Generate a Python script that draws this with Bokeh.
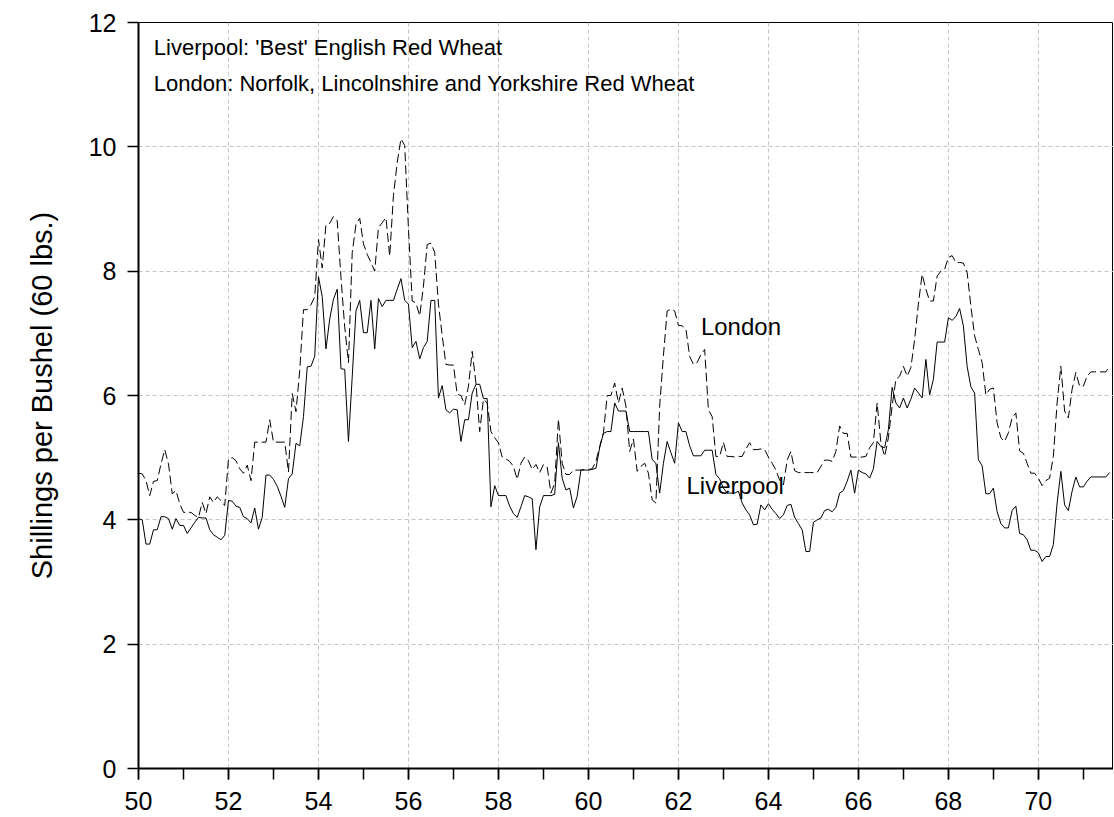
from bokeh.plotting import figure
from bokeh.models import Range1d, SingleIntervalTicker
from bokeh.embed import file_html
from bokeh.resources import INLINE
from bokeh.core.properties import value

# Monthly prices, shillings per bushel, starting January 1850
liverpool = [
    4.02, 4.00, 3.61, 3.61, 3.84, 3.84, 4.05, 4.05, 4.02, 3.85, 4.02, 3.91,
    3.91, 3.78, 3.87, 3.96, 4.04, 4.03, 4.03, 3.84, 3.76, 3.72, 3.68, 3.75,
    4.31, 4.30, 4.22, 4.20, 4.05, 4.02, 3.95, 4.19, 3.85, 4.04, 4.72, 4.72,
    4.65, 4.54, 4.38, 4.20, 4.66, 4.74, 5.23, 5.19, 5.66, 6.46, 6.47, 6.63,
    7.91, 7.59, 6.75, 7.23, 7.55, 7.71, 6.43, 6.42, 5.26, 6.30, 7.36, 7.53,
    7.01, 7.01, 7.53, 6.75, 7.56, 7.43, 7.53, 7.53, 7.53, 7.71, 7.88, 7.53,
    7.47, 6.77, 6.87, 6.59, 6.77, 6.87, 7.53, 7.53, 5.96, 6.16, 5.77, 5.72,
    5.78, 5.77, 5.26, 5.61, 5.61, 6.04, 6.18, 6.18, 5.95, 5.95, 4.21, 4.55,
    4.39, 4.39, 4.39, 4.22, 4.10, 4.04, 4.21, 4.39, 4.37, 4.34, 3.52, 4.21,
    4.39, 4.39, 4.39, 4.41, 5.24, 4.67, 4.48, 4.51, 4.19, 4.38, 4.80, 4.80,
    4.80, 4.81, 4.83, 5.16, 5.39, 5.42, 5.42, 5.88, 5.75, 5.75, 5.75, 5.42,
    5.42, 5.42, 5.42, 5.42, 5.42, 4.97, 4.91, 4.43, 4.91, 5.26, 5.08, 4.91,
    5.56, 5.42, 5.42, 5.19, 5.03, 5.03, 5.03, 5.12, 5.12, 5.12, 4.73, 4.66,
    4.51, 4.43, 4.43, 4.43, 4.46, 4.27, 4.16, 4.08, 3.92, 3.93, 4.24, 4.16,
    4.26, 4.17, 4.10, 4.02, 4.08, 4.23, 4.25, 4.04, 3.94, 3.84, 3.49, 3.49,
    3.96, 4.00, 4.03, 4.15, 4.17, 4.13, 4.20, 4.43, 4.47, 4.62, 4.80, 4.43,
    4.80, 4.76, 4.74, 4.67, 4.82, 5.26, 5.18, 5.16, 5.45, 6.13, 5.88, 5.80,
    5.96, 5.80, 5.94, 6.12, 6.04, 5.96, 6.58, 6.01, 6.26, 6.86, 6.86, 6.86,
    7.25, 7.21, 7.27, 7.40, 7.12, 6.47, 6.14, 6.04, 4.97, 4.87, 4.42, 4.42,
    4.51, 4.13, 3.94, 3.87, 3.87, 4.15, 4.22, 3.78, 3.76, 3.68, 3.51, 3.51,
    3.47, 3.33, 3.41, 3.41, 3.60, 4.27, 4.78, 4.24, 4.15, 4.46, 4.69, 4.53,
    4.53, 4.62, 4.69, 4.69, 4.69, 4.69, 4.69, 4.76,
]

london = [
    4.75, 4.74, 4.63, 4.39, 4.62, 4.63, 4.90, 5.13, 4.90, 4.42, 4.47, 4.26,
    4.12, 4.12, 4.12, 4.07, 4.04, 4.28, 4.10, 4.37, 4.28, 4.37, 4.31, 4.23,
    4.98, 5.00, 4.95, 4.82, 4.75, 4.88, 4.63, 5.25, 5.25, 5.25, 5.25, 5.61,
    5.25, 5.25, 5.25, 5.25, 4.77, 6.03, 5.74, 6.40, 7.38, 7.38, 7.46, 7.59,
    8.51, 8.05, 8.75, 8.77, 8.88, 8.81, 7.90, 7.10, 6.53, 8.30, 8.75, 8.85,
    8.44, 8.27, 8.14, 8.00, 8.70, 8.78, 8.86, 8.24, 9.22, 9.75, 10.13, 10.02,
    8.68, 7.52, 7.49, 7.28, 7.76, 8.43, 8.45, 8.30, 7.47, 6.96, 6.50, 6.49,
    6.49, 6.02, 6.00, 5.85, 6.15, 6.71, 6.20, 5.42, 5.94, 5.88, 5.42, 5.32,
    5.24, 5.01, 4.98, 4.94, 4.86, 4.65, 4.91, 5.01, 4.95, 4.81, 4.89, 4.76,
    4.89, 4.85, 4.43, 4.59, 5.62, 4.91, 4.73, 4.73, 4.80, 4.80, 4.80, 4.81,
    4.81, 4.82, 4.94, 5.18, 5.40, 6.00, 6.00, 6.20, 5.88, 6.12, 5.83, 5.10,
    5.30, 4.78, 4.86, 4.91, 4.75, 4.32, 4.27, 5.83, 6.64, 7.36, 7.39, 7.36,
    7.13, 7.12, 7.07, 6.63, 6.50, 6.53, 6.66, 6.74, 5.77, 5.66, 5.02, 5.02,
    5.25, 5.02, 5.02, 5.01, 5.02, 5.02, 5.14, 5.24, 5.13, 5.13, 5.14, 5.13,
    5.01, 4.91, 4.80, 4.64, 4.56, 4.96, 5.10, 4.79, 4.76, 4.76, 4.76, 4.76,
    4.76, 4.76, 4.86, 4.96, 4.96, 4.94, 5.10, 5.51, 5.39, 5.39, 5.01, 5.01,
    5.01, 5.01, 5.02, 5.16, 5.24, 5.88, 5.24, 5.02, 5.32, 5.83, 6.26, 6.31,
    6.47, 6.31, 6.45, 6.90, 7.47, 7.95, 7.71, 7.52, 7.52, 7.92, 8.00, 8.03,
    8.22, 8.25, 8.14, 8.14, 8.13, 7.98, 7.44, 6.96, 6.74, 6.53, 6.01, 6.10,
    6.12, 5.56, 5.32, 5.26, 5.40, 5.64, 5.72, 5.11, 5.07, 4.91, 4.75, 4.75,
    4.67, 4.55, 4.63, 4.67, 5.02, 5.88, 6.47, 5.75, 5.64, 6.10, 6.37, 6.15,
    6.15, 6.31, 6.38, 6.38, 6.38, 6.38, 6.38, 6.47,
]

start_year = 50
months = [start_year + i / 12 for i in range(len(liverpool))]

note_lines = [
    "Liverpool: 'Best' English Red Wheat",
    "London: Norfolk, Lincolnshire and Yorkshire Red Wheat",
]
series_labels = ["London", "Liverpool"]

FONT = "Liberation Sans"

p = figure(width=1113, height=814, output_backend="svg", toolbar_location=None,
           x_range=Range1d(50, 71.67), y_range=Range1d(0, 12),
           min_border_left=138, min_border_right=0, min_border_top=22,
           min_border_bottom=46)

p.background_fill_color = "white"
p.border_fill_color = "white"
p.outline_line_color = "black"
p.outline_line_width = 1

# grids
for g in (p.xgrid, p.ygrid):
    g.grid_line_color = "#c4c4c4"
    g.grid_line_dash = "4 3"
    g.grid_line_width = 1

# x axis
xa = p.xaxis[0]
xa.ticker = SingleIntervalTicker(interval=2, num_minor_ticks=2)
xa.major_tick_in = 0
xa.major_tick_out = 11
xa.minor_tick_in = 0
xa.minor_tick_out = 11
xa.major_tick_line_width = 1.5
xa.minor_tick_line_width = 1.5
xa.axis_line_width = 2
xa.major_label_text_font = FONT
xa.major_label_text_font_size = "25px"
xa.major_label_text_color = "black"
xa.major_label_standoff = 12

# y axis
ya = p.yaxis[0]
ya.ticker = SingleIntervalTicker(interval=2, num_minor_ticks=0)
ya.major_tick_in = 0
ya.major_tick_out = 11
ya.minor_tick_line_color = None
ya.major_tick_line_width = 1.5
ya.axis_line_width = 2
ya.major_label_text_font = FONT
ya.major_label_text_font_size = "25px"
ya.major_label_text_color = "black"
ya.major_label_standoff = 11
ya.axis_label = "Shillings per Bushel (60 lbs.)"
ya.axis_label_text_font = FONT
ya.axis_label_text_font_size = "29px"
ya.axis_label_text_font_style = "normal"
ya.axis_label_text_color = "black"
ya.axis_label_standoff = 28

# series
p.line(months, london, line_color="black", line_width=1, line_dash="9 4")
p.line(months, liverpool, line_color="black", line_width=1)

# annotations
p.text(x=[50.34, 50.34], y=[11.6, 11.02], text=note_lines,
       text_font=value(FONT), text_font_size="22px", text_color="black",
       text_baseline="middle", text_align="left")
p.text(x=[62.5, 62.18], y=[7.11, 4.55], text=series_labels,
       text_font=value(FONT), text_font_size="24px", text_color="black",
       text_baseline="middle", text_align="left")

open("out.html", "w").write(file_html(p, INLINE))
